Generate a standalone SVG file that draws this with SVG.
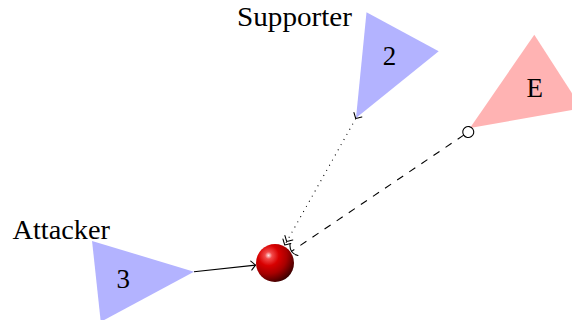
<svg xmlns="http://www.w3.org/2000/svg" width="572" height="320" viewBox="0 0 572 320">
  <style>
    .label { font-family: "Liberation Serif", "Times New Roman", serif; font-size: 27px; fill: #000; }
    .num { font-family: "Liberation Serif", "Times New Roman", serif; font-size: 27px; fill: #000; text-anchor: middle; }
    .blue { fill: #b3b3ff; }
    .red { fill: #ffb3b3; }
    .conn { fill: none; stroke: #000; stroke-width: 1.1; }
    .tip { fill: none; stroke: #000; stroke-width: 1.1; stroke-linecap: round; stroke-linejoin: round; }
  </style>
  <defs>
    <radialGradient id="ballShade" cx="0.33" cy="0.3" r="0.78" fx="0.33" fy="0.3">
      <stop offset="0" stop-color="#ffe6e6"/>
      <stop offset="0.12" stop-color="#f24a4a"/>
      <stop offset="0.35" stop-color="#d80000"/>
      <stop offset="0.62" stop-color="#a80000"/>
      <stop offset="0.85" stop-color="#600000"/>
      <stop offset="1" stop-color="#300000"/>
    </radialGradient>
    <marker id="to" markerUnits="userSpaceOnUse" orient="auto" refX="0" refY="0" markerWidth="12" markerHeight="12" overflow="visible">
      <path class="tip" d="M-4.3,-4.5 Q-0.9,-1.1 0,0 Q-0.9,1.1 -4.3,4.5"/>
    </marker>
    <marker id="toto" markerUnits="userSpaceOnUse" orient="auto" refX="0" refY="0" markerWidth="14" markerHeight="14" overflow="visible">
      <path class="tip" d="M-4.3,-4.5 Q-0.9,-1.1 0,0 Q-0.9,1.1 -4.3,4.5 M-8.3,-4.5 Q-4.9,-1.1 -4,0 Q-4.9,1.1 -8.3,4.5"/>
    </marker>
    <marker id="circ" markerUnits="userSpaceOnUse" orient="auto" refX="0" refY="0" markerWidth="14" markerHeight="14" overflow="visible">
      <circle cx="-5.5" cy="0" r="5.5" fill="#fff" stroke="#000" stroke-width="1.1"/>
    </marker>
    <marker id="arc" markerUnits="userSpaceOnUse" orient="auto" refX="0" refY="0" markerWidth="16" markerHeight="16" overflow="visible">
      <path class="tip" d="M-3,-7 Q3,0 -3,7"/>
    </marker>
  </defs>

  <g id="attacker">
    <polygon class="blue" points="194,271.7 92.05,240.95 100.75,321.85"/>
    <text class="num" x="123.3" y="288.3">3</text>
    <text class="label" x="12.5" y="239" textLength="97.5" lengthAdjust="spacingAndGlyphs">Attacker</text>
  </g>

  <g id="supporter">
    <polygon class="blue" points="356,118 366.5,12.3 438.7,51.3"/>
    <text class="num" x="389.5" y="65">2</text>
    <text class="label" x="237" y="26" textLength="115" lengthAdjust="spacingAndGlyphs">Supporter</text>
  </g>

  <g id="enemy">
    <polygon class="red" points="470,128 534.3,34.7 581.7,108.3"/>
    <text class="num" x="534.8" y="96.7">E</text>
  </g>

  <g id="ball">
    <circle cx="275" cy="263" r="19" fill="url(#ballShade)"/>
  </g>

  <g id="connectors">
    <path class="conn" d="M194,271.7 L255.5,265.1" marker-end="url(#to)"/>
    <path class="conn" d="M355.8,118.5 L284.8,245" stroke-width="1" stroke-dasharray="1 4.9" marker-start="url(#to)" marker-end="url(#toto)"/>
    <path class="conn" d="M463.7,135.1 L291.5,251.4" stroke-dasharray="7.3 7.3" marker-start="url(#circ)" marker-end="url(#arc)"/>
  </g>
</svg>
